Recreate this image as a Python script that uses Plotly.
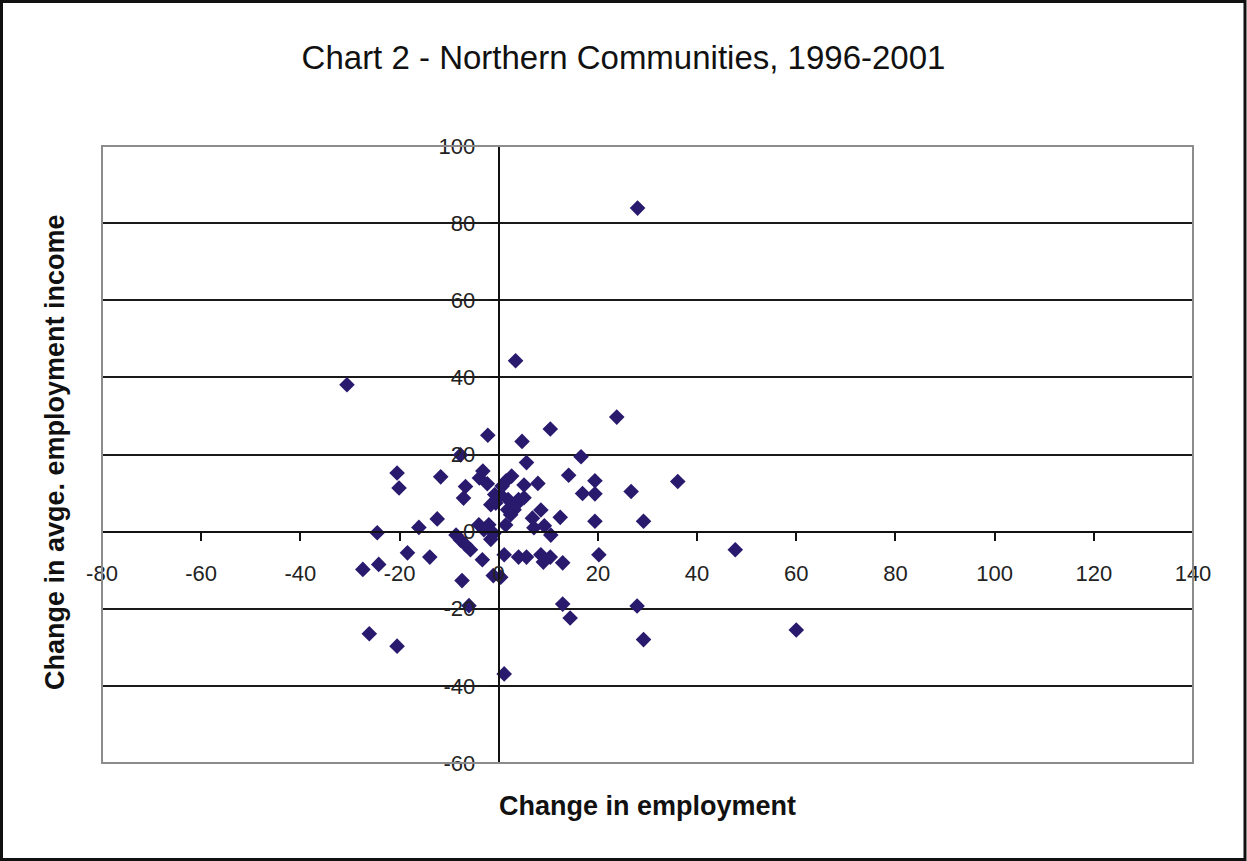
import plotly.graph_objects as go

# Change in employment (%) and change in average employment income (%), 1996-2001
emp_change = [
    28.0, 3.4, -30.6, 23.8, 10.4, -2.2, 4.7, 16.6, -7.7, 5.6,
    -20.5, -20.1, -11.7, 14.1, 19.4, 36.1, -3.2, -3.9, -2.3, -6.7,
    -7.1, 2.6, 1.5, 0.7, 5.1, 7.9, 16.9, 19.4, 26.7, -0.8,
    -0.6, 1.9, 4.0, 5.1, 3.1, 1.8, 2.4, 8.5, 6.8, 12.4,
    19.4, 29.2, 7.1, 9.2, 10.5, 1.4, -2.0, -4.0, -12.4, -16.1,
    -24.5, -8.6, -7.7, -6.7, -5.7, -1.6, -18.4, -13.9, -24.2, -27.4,
    -3.3, 1.1, 4.0, 5.6, 8.5, 10.4, 9.0, 12.9, 20.2, 47.7,
    -1.1, 0.4, -7.4, -6.0, 12.9, 14.4, 27.9, 29.2, 60.0, -26.1,
    -20.5, 1.1, -1.6, 0.4, 3.5, -3.0, -1.0,
]
income_change = [
    83.9, 44.3, 38.1, 29.7, 26.6, 25.0, 23.4, 19.4, 19.9, 17.9,
    15.2, 11.3, 14.2, 14.6, 13.2, 13.0, 15.7, 13.9, 12.4, 11.7,
    8.7, 14.4, 13.2, 11.8, 12.1, 12.5, 9.9, 9.8, 10.4, 9.6,
    7.4, 8.3, 8.3, 8.8, 5.7, 5.7, 4.4, 5.6, 3.5, 3.7,
    2.7, 2.7, 1.0, 1.5, -0.9, 1.7, 1.8, 1.8, 3.3, 1.1,
    -0.3, -0.9, -2.2, -3.4, -4.7, -2.0, -5.5, -6.6, -8.5, -9.8,
    -7.3, -6.0, -6.6, -6.6, -6.0, -6.6, -7.9, -8.1, -6.0, -4.7,
    -11.4, -11.8, -12.7, -19.2, -18.8, -22.4, -19.3, -28.0, -25.5, -26.5,
    -29.7, -36.9, 7.0, 9.5, 7.0, 0.5, -0.5,
]

x_ticks = list(range(-80, 141, 20))
y_ticks = list(range(-60, 101, 20))

W, H = 1247, 861
ML, MR, MT, MB = 102, 54, 146, 98
plot_w = W - ML - MR
plot_h = H - MT - MB

MARKER = "#2a1a6e"
AXIS_FONT = "Liberation Sans, Arial, sans-serif"

fig = go.Figure(
    go.Scatter(
        x=emp_change,
        y=income_change,
        mode="markers",
        marker=dict(symbol="diamond", size=12, color=MARKER, line=dict(width=0)),
        hoverinfo="x+y",
    )
)

fig.update_layout(
    width=W,
    height=H,
    margin=dict(l=ML, r=MR, t=MT, b=MB, pad=0),
    paper_bgcolor="white",
    plot_bgcolor="white",
    showlegend=False,
    font=dict(family=AXIS_FONT, color="#1a1a1a"),
    title=dict(
        text="Chart 2 - Northern Communities, 1996-2001",
        x=0.5,
        xanchor="center",
        y=1 - 57 / H,
        yanchor="middle",
        font=dict(family=AXIS_FONT, size=33, color="#111111"),
    ),
    xaxis=dict(
        range=[-80, 140],
        tickvals=x_ticks,
        ticktext=[str(v) for v in x_ticks],
        anchor="free",
        position=60 / 160,
        showgrid=False,
        zeroline=False,
        showline=True,
        linecolor="#111111",
        linewidth=2,
        ticks="outside",
        ticklen=8,
        tickwidth=2,
        tickcolor="#111111",
        ticklabelstandoff=14,
        tickfont=dict(size=22, color="#222222"),
        fixedrange=True,
    ),
    yaxis=dict(
        range=[-60, 100],
        tickvals=y_ticks,
        ticktext=[str(v) for v in y_ticks],
        anchor="free",
        position=80 / 220,
        showgrid=True,
        gridcolor="#1a1a1a",
        gridwidth=2,
        zeroline=False,
        showline=True,
        linecolor="#111111",
        linewidth=2,
        ticks="outside",
        ticklen=8,
        tickwidth=2,
        tickcolor="#111111",
        ticklabelstandoff=10,
        tickfont=dict(size=22, color="#222222"),
        fixedrange=True,
    ),
)

# Axis titles placed outside the plot area
fig.add_annotation(
    text="<b>Change in employment</b>",
    xref="paper", yref="paper",
    x=0.5, y=-(806 - (H - MB)) / plot_h,
    xanchor="center", yanchor="middle",
    showarrow=False,
    font=dict(family=AXIS_FONT, size=27, color="#111111"),
)
fig.add_annotation(
    text="<b>Change in avge. employment income</b>",
    xref="paper", yref="paper",
    x=-(ML - 55) / plot_w, y=((H - MB) - 452) / plot_h,
    xanchor="center", yanchor="middle",
    textangle=-90,
    showarrow=False,
    font=dict(family=AXIS_FONT, size=27, color="#111111"),
)

# Grey border around the plot area
fig.add_shape(
    type="rect", xref="paper", yref="paper",
    x0=0, y0=0, x1=1, y1=1,
    line=dict(color="#8c8c8c", width=2),
    layer="above",
)
# Black frame around the whole chart
fig.add_shape(
    type="rect", xref="paper", yref="paper",
    x0=-(ML - 1.5) / plot_w, x1=1 + (MR - 2) / plot_w,
    y0=-(MB - 1.5) / plot_h, y1=1 + (MT - 1.5) / plot_h,
    line=dict(color="#111111", width=3),
    layer="above",
)

fig.write_html("out.html")
